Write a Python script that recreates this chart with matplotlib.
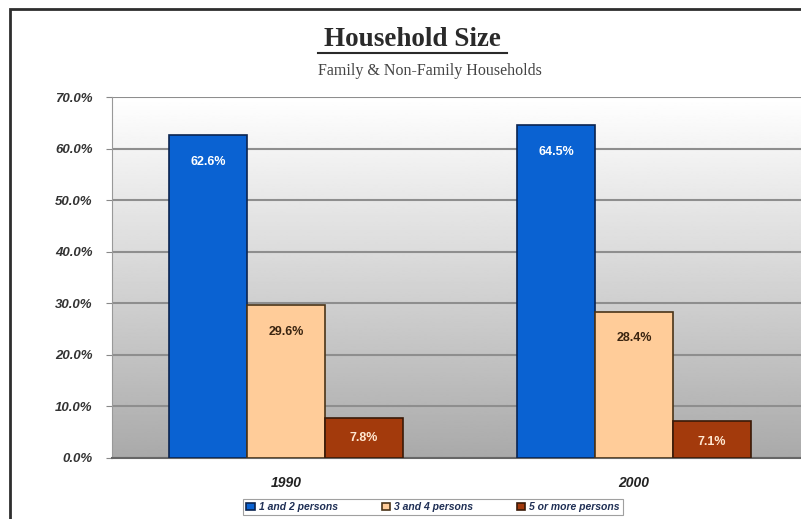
import numpy as np
import matplotlib
matplotlib.use("Agg")
import matplotlib.pyplot as plt
from matplotlib.patches import Rectangle

YEARS = ["1990", "2000"]
SERIES = ["1 and 2 persons", "3 and 4 persons", "5 or more persons"]
SHARE_1_2 = [62.6, 64.5]
SHARE_3_4 = [29.6, 28.4]
SHARE_5_PLUS = [7.8, 7.1]
Y_TICKS = [0, 10, 20, 30, 40, 50, 60, 70]

FILL = ["#0A62D2", "#FFCC99", "#A33A0C"]
EDGE = ["#0B2450", "#4A3418", "#3A1A08"]
LABEL_COLOR = ["white", "#3A2410", "#FFE7D0"]

W, H = 801, 519
fig = plt.figure(figsize=(W / 100, H / 100), dpi=100)
fig.patch.set_facecolor("white")

# outer frame (only left and top edges fall inside the canvas)
fig.add_artist(Rectangle((10 / W, -0.1), 1.2, (H - 9) / H + 0.1,
                         transform=fig.transFigure, fill=False,
                         edgecolor="#2E2E2E", linewidth=2.0))

left, right, top, bottom = 112, 808, 97, 458
ax = fig.add_axes([left / W, (H - bottom) / H, (right - left) / W, (bottom - top) / H])

# grey-to-white gradient plot area
grad = np.linspace(0.60, 1.0, 256).reshape(-1, 1) ** 0.8
ax.imshow(grad, cmap="gray", vmin=0, vmax=1, origin="lower", aspect="auto",
          extent=[-0.5, 1.5, 0, 70], zorder=0, interpolation="bilinear")

x = np.arange(len(YEARS))
bw = 0.224
values = [SHARE_1_2, SHARE_3_4, SHARE_5_PLUS]
for i, (vals, name) in enumerate(zip(values, SERIES)):
    pos = x + (i - 1) * bw
    ax.bar(pos, vals, width=bw, color=FILL[i], edgecolor=EDGE[i],
           linewidth=1.2, label=name, zorder=3)
    for px, v in zip(pos, vals):
        ax.text(px, v - 5.2 if v > 10 else v - 4.0, f"{v:.1f}%", ha="center",
                va="center", fontsize=9, fontweight="bold",
                color=LABEL_COLOR[i], family="Liberation Sans", zorder=4)

tick_font = {"family": "Liberation Sans", "style": "italic", "weight": "bold"}
ax.set_xlim(-0.5, 1.5)
ax.set_ylim(0, 70)
ax.set_yticks(Y_TICKS)
ax.set_yticklabels([f"{t:.1f}%" for t in Y_TICKS], fontsize=9.5,
                   color="#333333", **tick_font)
ax.set_xticks(x)
ax.set_xticklabels(YEARS, fontsize=10, color="#222222", **tick_font)
ax.tick_params(axis="y", length=4, color="#888888", pad=10)
ax.tick_params(axis="x", length=0, pad=13)
ax.grid(axis="y", color="#8E8E8E", linewidth=1.5, zorder=1)
ax.set_axisbelow(True)
for side in ["top", "right"]:
    ax.spines[side].set_visible(False)
ax.spines["left"].set_color("#999999")
ax.spines["bottom"].set_color("#666666")
ax.spines["bottom"].set_linewidth(1.5)

fig.text(412 / W, 1 - 40 / H, "Household Size", ha="center", va="center",
         fontsize=19.5, fontweight="bold", family="Liberation Serif",
         color="#2A2A2A")
fig.add_artist(plt.Line2D([318 / W, 507 / W], [1 - 53 / H] * 2,
                          color="#2A2A2A", linewidth=1.5))
fig.text(430 / W, 1 - 71 / H, "Family & Non-Family Households", ha="center",
         va="center", fontsize=11.5, family="Liberation Serif", color="#444444")

leg = fig.legend(loc="upper center", bbox_to_anchor=(433 / W, 1 - 499 / H),
                 ncol=3, frameon=True, fancybox=False,
                 prop={"style": "italic", "weight": "bold",
                       "family": "Liberation Sans", "size": 7.5},
                 handlelength=0.8, handleheight=0.8, handletextpad=0.4,
                 columnspacing=4.2, borderpad=0.3, borderaxespad=0,
                 labelcolor="#1F2F55")
leg.get_frame().set_edgecolor("#888888")
leg.get_frame().set_linewidth(0.8)

fig.savefig("out.png", dpi=100)
